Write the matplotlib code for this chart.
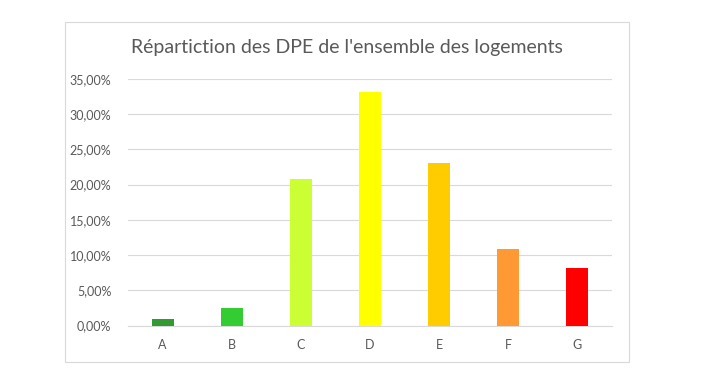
import matplotlib.pyplot as plt
from matplotlib.patches import Rectangle
from matplotlib.ticker import FuncFormatter

plt.rcParams['font.family'] = ['Lato', 'DejaVu Sans']

classes = ['A', 'B', 'C', 'D', 'E', 'F', 'G']
shares = [0.88, 2.48, 20.75, 33.2, 23.05, 10.93, 8.19]
bar_colors = ['#339933', '#33CC33', '#CCFF33', '#FFFF00', '#FFCC00', '#FF9933', '#FF0000']
title = "Répartiction des DPE de l'ensemble des logements"

W, H = 709, 380
fig = plt.figure(figsize=(W / 100, H / 100), dpi=100)

# outer chart frame
fig.patches.append(Rectangle((65 / W, 1 - 362 / H), (629 - 65) / W, (362 - 22) / H,
                             transform=fig.transFigure, fill=False,
                             edgecolor='#D9D9D9', linewidth=0.8))

ax = fig.add_axes([128 / W, 1 - 325.5 / H, (612 - 128) / W, (325.5 - 79) / H])
x = list(range(len(classes)))
ax.bar(x, shares, width=0.32, color=bar_colors, zorder=3)

ax.set_xlim(-0.5, len(classes) - 0.5)
ax.set_ylim(0, 35)
ax.set_yticks(range(0, 36, 5))
ax.yaxis.set_major_formatter(FuncFormatter(lambda v, p: ('%.2f' % v).replace('.', ',') + '%'))
ax.set_xticks(x)
ax.set_xticklabels(classes)

ax.grid(axis='y', color='#D9D9D9', linewidth=0.8, zorder=0)
for s in ['left', 'right', 'top']:
    ax.spines[s].set_visible(False)
ax.spines['bottom'].set_color('#D9D9D9')
ax.spines['bottom'].set_linewidth(0.8)
ax.tick_params(axis='both', length=0, labelsize=9, labelcolor='#595959')
ax.tick_params(axis='y', pad=12)
ax.tick_params(axis='x', pad=10)

fig.text(347 / W, 1 - 48 / H, title, ha='center', va='center',
         fontsize=14, color='#595959')

fig.savefig('out.png', dpi=100)
